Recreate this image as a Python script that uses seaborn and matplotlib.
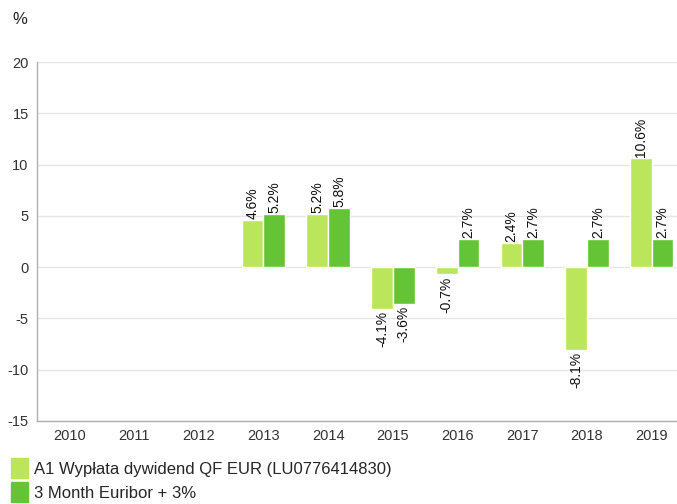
import numpy as np
import pandas as pd
import matplotlib
matplotlib.use("Agg")
import matplotlib.pyplot as plt
import seaborn as sns

years = ["2010", "2011", "2012", "2013", "2014", "2015", "2016", "2017", "2018", "2019"]
fund = [np.nan, np.nan, np.nan, 4.6, 5.2, -4.1, -0.7, 2.4, -8.1, 10.6]
benchmark = [np.nan, np.nan, np.nan, 5.2, 5.8, -3.6, 2.7, 2.7, 2.7, 2.7]
series_names = ["A1 Wypłata dywidend QF EUR (LU0776414830)", "3 Month Euribor + 3%"]
colors = ["#bbe55b", "#64c436"]

df = pd.DataFrame({
    "year": years * 2,
    "value": fund + benchmark,
    "series": [series_names[0]] * len(years) + [series_names[1]] * len(years),
})

sns.set_style("white")
plt.rcParams["font.family"] = ["Liberation Sans", "DejaVu Sans"]
plt.rcParams["axes.unicode_minus"] = False

fig = plt.figure(figsize=(6.77, 5.04), dpi=100)
ax = fig.add_axes([37 / 677, 1 - 421 / 504, (684 - 37) / 677, (421 - 62) / 504])

sns.barplot(data=df, x="year", y="value", hue="series", order=years,
            hue_order=series_names, palette=colors, width=0.67,
            edgecolor="white", linewidth=1, saturation=1, ax=ax, legend=False)

ax.set_ylim(-15, 20)
ax.set_xlim(-0.5, 9.5)
ax.set_yticks(range(-15, 21, 5))
ax.yaxis.grid(True, color="#e6e6e6", linewidth=1)
ax.set_axisbelow(True)
for side in ["top", "right"]:
    ax.spines[side].set_visible(False)
for side in ["left", "bottom"]:
    ax.spines[side].set_color("#b0b0b0")
    ax.spines[side].set_linewidth(1)
ax.tick_params(axis="both", length=0, labelsize=10.5, labelcolor="#333333", pad=6)
ax.set_xlabel("")
ax.set_ylabel("")

# value labels at bar ends
for container in ax.containers:
    for bar in container:
        h = bar.get_height()
        if np.isnan(h):
            continue
        x = bar.get_x() + bar.get_width() / 2
        txt = f"{h:.1f}%"
        if h >= 0:
            ax.text(x, h + 0.1, txt, rotation=90, ha="center", va="bottom",
                    fontsize=10, color="#111111")
        else:
            ax.text(x, h - 0.2, txt, rotation=90, ha="center", va="top",
                    fontsize=10, color="#111111")

fig.text(12 / 677, 1 - 19 / 504, "%", fontsize=12, color="#222222", va="center", ha="left")

handles = [plt.Rectangle((0, 0), 1, 1, color=c) for c in colors]
fig.legend(handles, series_names, loc="upper left", bbox_to_anchor=(8 / 677, 1 - 455 / 504),
           frameon=False, fontsize=12, handlelength=1.0, handleheight=1.45,
           handletextpad=0.35, labelspacing=0.25, borderaxespad=0, borderpad=0.2)

fig.savefig("out.png", dpi=100)
